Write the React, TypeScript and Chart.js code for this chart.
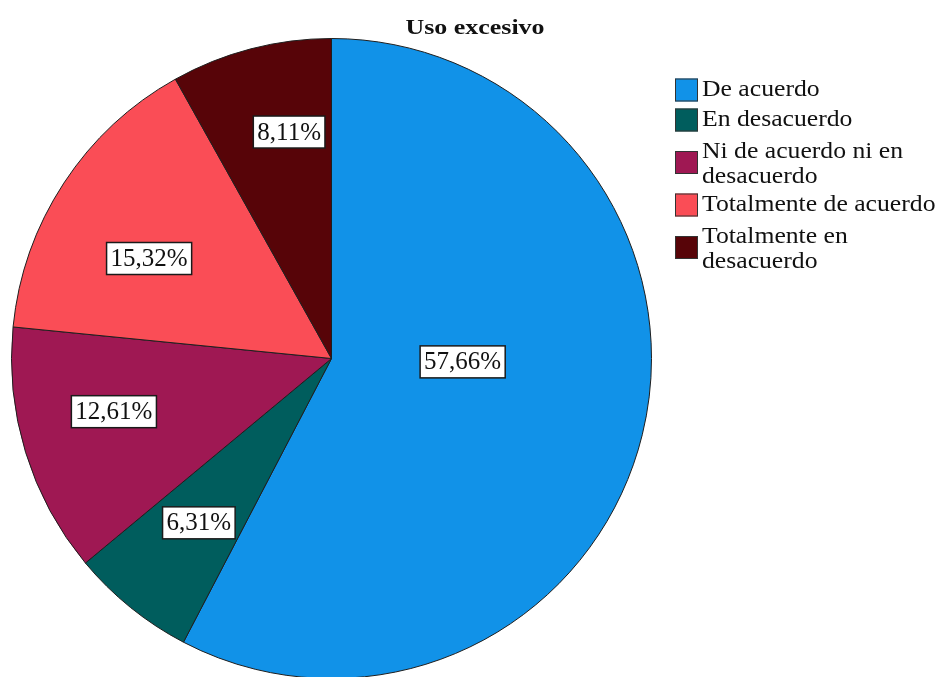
import React, { useEffect, useRef } from "react";
import { Chart, ArcElement, PieController } from "chart.js";

Chart.register(ArcElement, PieController);

const chartTitle = "Uso excesivo";
const categories = [
  "De acuerdo",
  "En desacuerdo",
  "Ni de acuerdo ni en desacuerdo",
  "Totalmente de acuerdo",
  "Totalmente en desacuerdo",
];
const legendLines = [
  ["De acuerdo"],
  ["En desacuerdo"],
  ["Ni de acuerdo ni en", "desacuerdo"],
  ["Totalmente de acuerdo"],
  ["Totalmente en", "desacuerdo"],
];
const percentages = [57.66, 6.31, 12.61, 15.32, 8.11];
const percentLabels = ["57,66%", "6,31%", "12,61%", "15,32%", "8,11%"];
const sliceColors = ["#1192e8", "#005d5d", "#9f1853", "#fa4d56", "#570408"];

const SERIF = "'Liberation Serif', 'Times New Roman', serif";

// label placement: fraction of radius, angle shift (degrees) from slice mid-angle
const labelPlacement = [
  { r: 0.41, a: -12.3 },
  { r: 0.66, a: 0 },
  { r: 0.7, a: 3.3 },
  { r: 0.65, a: -4.5 },
  { r: 0.72, a: 4 },
];

const overlayPlugin = {
  id: "overlay",
  afterDraw(chart: any) {
    const ctx: CanvasRenderingContext2D = chart.ctx;
    const meta = chart.getDatasetMeta(0);

    // slice labels
    ctx.save();
    ctx.font = `25px ${SERIF}`;
    ctx.textAlign = "center";
    ctx.textBaseline = "middle";
    meta.data.forEach((arc: any, i: number) => {
      const p = arc.getProps(["x", "y", "startAngle", "endAngle", "outerRadius"], true);
      const pl = labelPlacement[i];
      const mid = (p.startAngle + p.endAngle) / 2 + (pl.a * Math.PI) / 180;
      const cx = p.x + Math.cos(mid) * p.outerRadius * pl.r;
      const cy = p.y + Math.sin(mid) * p.outerRadius * pl.r;
      const text = percentLabels[i];
      const tw = ctx.measureText(text).width;
      const bw = tw + 8;
      const bh = 32;
      ctx.fillStyle = "#ffffff";
      ctx.fillRect(cx - bw / 2, cy - bh / 2, bw, bh);
      ctx.strokeStyle = "#1a1a1a";
      ctx.lineWidth = 1.5;
      ctx.strokeRect(cx - bw / 2, cy - bh / 2, bw, bh);
      ctx.fillStyle = "#111111";
      ctx.fillText(text, cx, cy + 1);
    });
    ctx.restore();

    // title
    ctx.save();
    ctx.font = `bold 22px ${SERIF}`;
    ctx.textAlign = "center";
    ctx.textBaseline = "alphabetic";
    ctx.fillStyle = "#111111";
    ctx.translate(475, 34);
    ctx.scale(1.18, 1);
    ctx.fillText(chartTitle, 0, 0);
    ctx.restore();

    // legend
    ctx.save();
    let top = 75;
    legendLines.forEach((lines, i) => {
      const blockH = lines.length === 1 ? 30 : 55;
      const center = top + blockH / 2;
      ctx.fillStyle = sliceColors[i];
      ctx.fillRect(675, center - 11.5, 23, 23);
      ctx.strokeStyle = "#333333";
      ctx.lineWidth = 1;
      ctx.strokeRect(675.5, center - 11, 22, 22);
      ctx.fillStyle = "#111111";
      ctx.font = `24px ${SERIF}`;
      ctx.textAlign = "left";
      ctx.textBaseline = "middle";
      lines.forEach((ln, j) => {
        const y = lines.length === 1 ? center : top + 17 + j * 24.5;
        ctx.save();
        ctx.translate(702, y);
        ctx.scale(1.07, 1);
        ctx.fillText(ln, 0, 0);
        ctx.restore();
      });
      top += blockH;
    });
    ctx.restore();
  },
};

export default function App() {
  const canvasRef = useRef<HTMLCanvasElement | null>(null);

  useEffect(() => {
    document.body.style.margin = "0";
    document.body.style.overflow = "hidden";
    document.documentElement.style.overflow = "hidden";
    const canvas = canvasRef.current;
    if (!canvas) return;
    const chart = new Chart(canvas, {
      type: "pie",
      data: {
        labels: categories,
        datasets: [
          {
            data: percentages,
            backgroundColor: sliceColors,
            borderColor: "#1e1e1e",
            borderWidth: 1,
            radius: 320,
          } as any,
        ],
      },
      options: {
        responsive: false,
        animation: false,
        layout: { padding: { left: 0, top: 0, bottom: 0, right: 279 } },
        plugins: {
          legend: { display: false },
          tooltip: { enabled: false },
        } as any,
      },
      plugins: [overlayPlugin],
    });
    return () => chart.destroy();
  }, []);

  return (
    <div style={{ width: 942, height: 677, overflow: "hidden", background: "#ffffff" }}>
      <canvas ref={canvasRef} width={942} height={717} style={{ display: "block", width: 942, height: 717 }} />
    </div>
  );
}
